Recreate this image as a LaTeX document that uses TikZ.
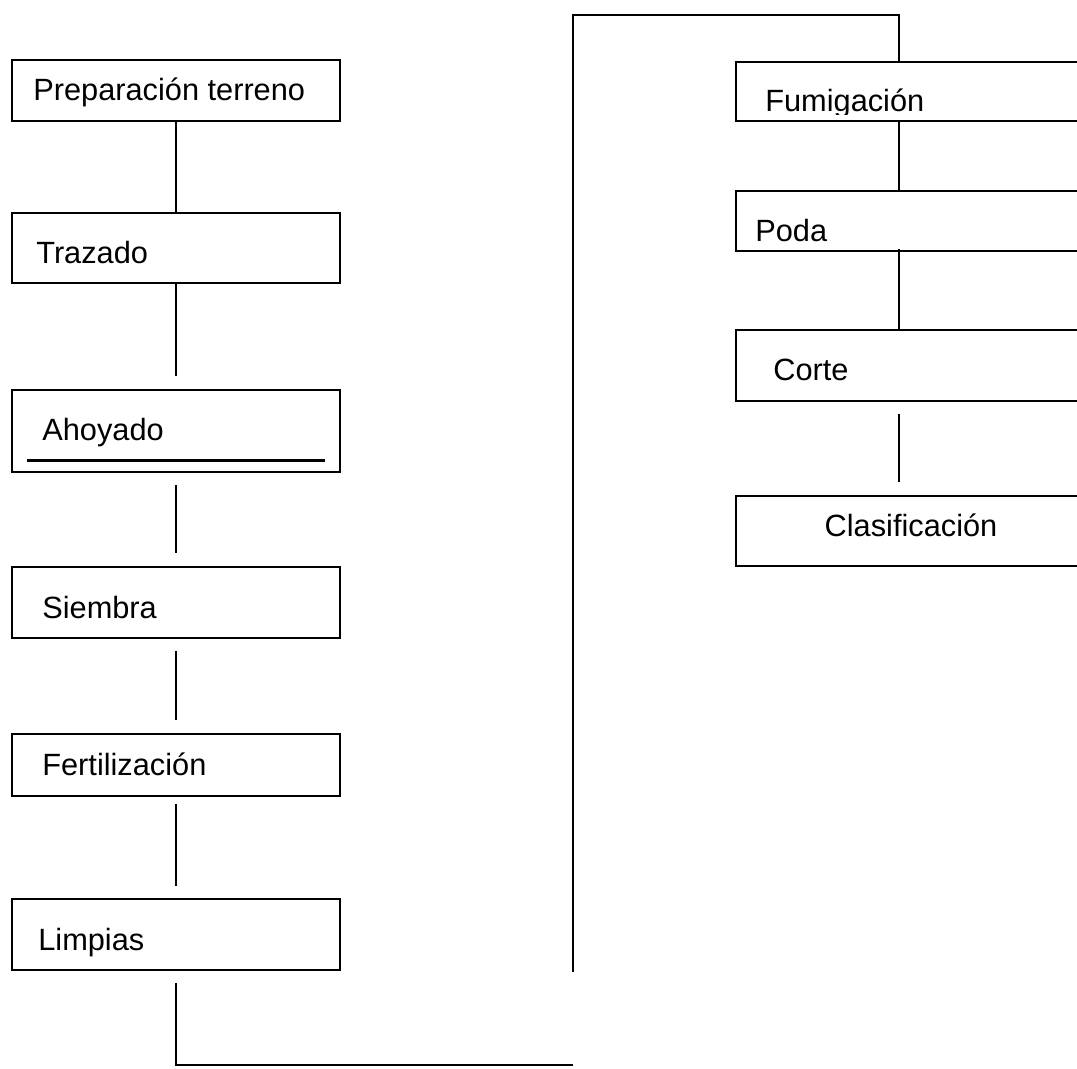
\documentclass[tikz,border=0pt]{standalone}
\usepackage{fontspec}
\setmainfont{Liberation Sans}

\begin{document}
\begin{tikzpicture}
  [x=0.02cm, y=-0.02cm,
   caja/.style={draw, line width=1.1pt, minimum width=6.56cm, inner sep=0pt},
   cajader/.style={caja, minimum width=7cm},
   texto/.style={anchor=base west, inner sep=0pt, font=\fontsize{17.5}{21}\selectfont},
   con/.style={line width=1pt}]
  \useasboundingbox (0,0) rectangle (1077,1068);

  % columna izquierda
  \node[caja, minimum height=1.22cm] (prep) at (176,90.5) {};
  \node[caja, minimum height=1.40cm] (traz) at (176,248) {};
  \node[caja, minimum height=1.64cm] (ahoy) at (176,431) {};
  \node[caja, minimum height=1.42cm] (siem) at (176,602.5) {};
  \node[caja, minimum height=1.24cm] (fert) at (176,765) {};
  \node[caja, minimum height=1.42cm] (limp) at (176,934.5) {};

  \node[texto] (t-prep) at (33,100) {Preparación terreno};
  \node[texto] (t-traz) at (36,263) {Trazado};
  \node[texto] (t-ahoy) at (42,440) {Ahoyado};
  \node[texto] (t-siem) at (42,618) {Siembra};
  \node[texto] (t-fert) at (42,775) {Fertilización};
  \node[texto] (t-limp) at (38,950) {Limpias};
  \draw[line width=1.7pt] ([shift={(16,-12)}]ahoy.south west) -- ([shift={(-16,-12)}]ahoy.south east);

  % columna derecha
  \node[cajader, minimum height=1.18cm] (fum) at (911,91.5) {};
  \node[cajader, minimum height=1.20cm] (poda) at (911,221) {};
  \node[cajader, minimum height=1.42cm] (corte) at (911,365.5) {};
  \node[cajader, minimum height=1.40cm] (clas) at (911,531) {};

  \begin{scope}
    \clip (736,62) rectangle (1086,114);
    \node[texto] (t-fum) at (765,112) {Fumigación};
  \end{scope}
  \node[texto] (t-poda) at (755,241) {Poda};
  \node[texto] (t-corte) at (773,380) {Corte};
  \node[texto, anchor=base] (t-clas) at (911,536) {Clasificación};

  % uniones
  \coordinate (fin) at (573,1065);
  \coordinate (sube) at (573,972);
  \coordinate (esq) at (899,15);

  \draw[con] (prep) -- (traz);
  \draw[con, shorten >=0.26cm] (traz) -- (ahoy);
  \draw[con, shorten <=0.24cm, shorten >=0.26cm] (ahoy) -- (siem);
  \draw[con, shorten <=0.24cm, shorten >=0.26cm] (siem) -- (fert);
  \draw[con, shorten <=0.14cm, shorten >=0.24cm] (fert) -- (limp);
  \draw[con, shorten <=0.24cm] (limp) |- (fin);
  \draw[con] (sube) |- (esq) -- (esq |- fum.north);
  \draw[con] (esq |- fum.south) -- (esq |- poda.north);
  \draw[con, shorten <=-0.06cm] (esq |- poda.south) -- (esq |- corte.north);
  \draw[con, shorten <=0.24cm, shorten >=0.26cm] (esq |- corte.south) -- (esq |- clas.north);
\end{tikzpicture}
\end{document}
